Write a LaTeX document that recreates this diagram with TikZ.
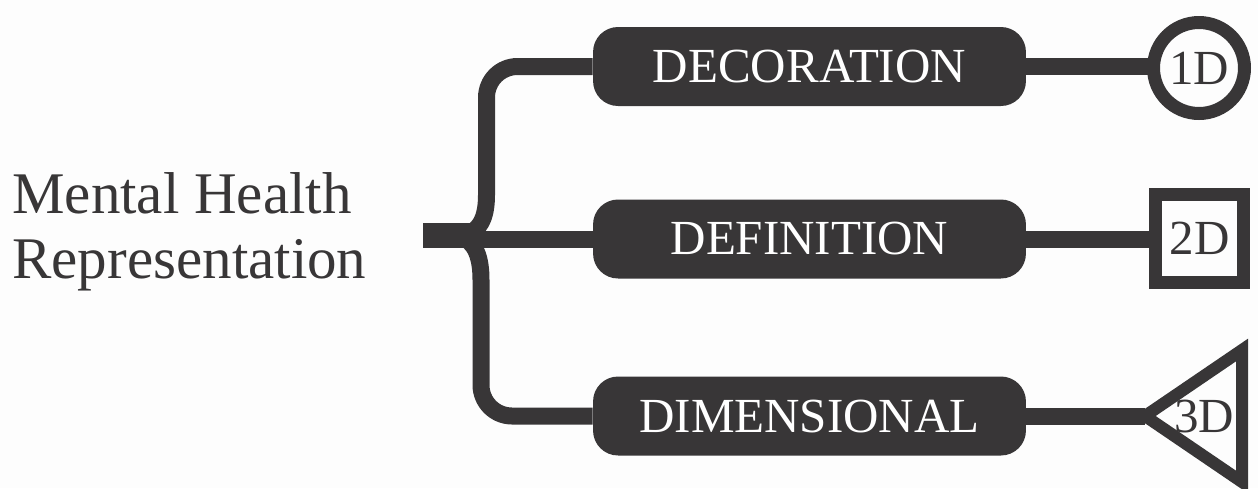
\documentclass[tikz,border=0pt]{standalone}
\usepackage{fontspec}
\setmainfont{Liberation Serif}
\definecolor{inkgrey}{RGB}{56,54,55}
\definecolor{paper}{RGB}{253,253,253}
\begin{document}
\begin{tikzpicture}[x=0.02cm, y=-0.02cm,
		catbox/.style={fill=inkgrey, text=white, rounded corners=0.5cm, minimum width=8.66cm, minimum height=1.58cm, inner sep=0pt, font=\fontsize{27.9}{30}\selectfont},
		branch/.style={draw=inkgrey, line width=0.34cm},
		dimshape/.style={draw=inkgrey, line width=0.26cm, fill=paper, text=inkgrey, inner sep=0pt, font=\fontsize{27.9}{30}\selectfont}]
	
	% --- nền và khung ---
	\fill[paper] (0,0) rectangle (1258,488);
	\useasboundingbox (0,0) rectangle (1258,488);
	
	% --- tiêu đề bên trái ---
	\node[anchor=west, align=left, inner sep=0pt, text=inkgrey, font=\fontsize{33.6}{37}\selectfont] (title) at (12,232) {Mental Health\\Representation};
	
	% --- ba hộp ---
	\node[catbox] (deco) at (809.5,66.5) {DECORATION};
	\node[catbox] (defin) at (809.5,239) {DEFINITION};
	\node[catbox] (dimen) at (809.5,416) {DIMENSIONAL};
	
	% --- dấu ngoặc ---
	\coordinate (split) at (423,239);
	\coordinate (stem) at (460,236);
	\fill[inkgrey] (423,223) rectangle (470,248);
	\draw[branch] (split) -- (defin.west);
	\draw[branch] (stem) .. controls (480,233) and (486.5,218) .. (486.5,195) [rounded corners=0.62cm] -- (486.5,66.5) -- (deco.west);
	\draw[branch] (stem) .. controls (476,242) and (481,258) .. (481,280) [rounded corners=0.62cm] -- (481,416) -- (dimen.west);
	
	% --- nối sang 1D, 2D, 3D ---
	\coordinate (apex) at (1145,416);
	\draw[branch] (deco.east) -- (1160,66.5);
	\draw[branch] (defin.east) -- (1160,239);
	\draw[branch] (dimen.east) -- (apex);
	
	\node[dimshape, circle, minimum size=1.82cm] (one) at (1199,68) {1D};
	\node[dimshape, rectangle, minimum size=1.76cm] (two) at (1199.5,238.5) {2D};
	\draw[draw=inkgrey, line width=0.24cm, fill=paper, miter limit=10] (1242,350) -- (apex) -- (1242,482) -- cycle;
	\node[text=inkgrey, inner sep=0pt, font=\fontsize{27.9}{30}\selectfont] (three) at (1204,416) {3D};
	
\end{tikzpicture}
\end{document}
